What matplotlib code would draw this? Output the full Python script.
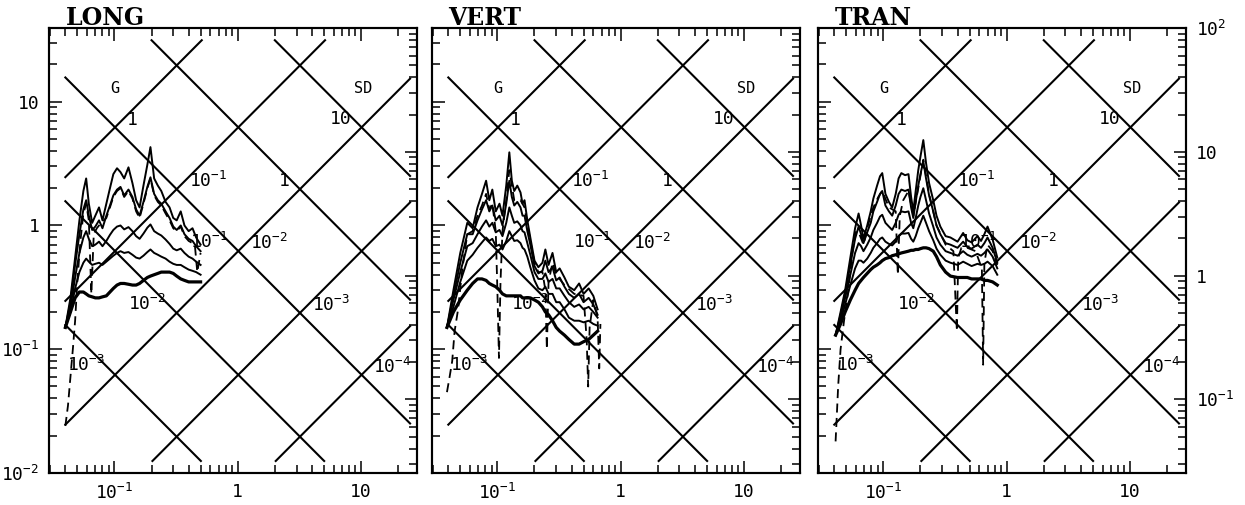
import matplotlib
matplotlib.use('Agg')
import matplotlib.pyplot as plt
from matplotlib.ticker import FixedLocator, LogLocator, NullFormatter
import numpy as np

plt.rcParams['font.family'] = ['DejaVu Sans Mono']
plt.rcParams['mathtext.fontset'] = 'custom'
plt.rcParams['mathtext.rm'] = 'DejaVu Sans Mono'
plt.rcParams['mathtext.it'] = 'DejaVu Sans Mono'

G_IN = 386.1          # in/s^2
IN_TO_CM = 2.54

# tripartite grid: displacement (in) and acceleration (g) levels
SD_LEVELS = [1e-3, 1e-2, 1e-1, 1, 10]
SD_LABEL_T = [0.1, 0.316, 1, 3.16, 10]
G_LEVELS = [1, 1e-1, 1e-2, 1e-3, 1e-4]
G_LABEL_T = [0.1, 0.316, 1, 3.16, 10]

# ---- LONG ----
T_long = [0.040, 0.044, 0.048, 0.052, 0.056, 0.059, 0.062, 0.066, 0.070, 0.075,
          0.080, 0.086, 0.092, 0.098, 0.105, 0.112, 0.120, 0.130, 0.140, 0.150,
          0.160, 0.172, 0.185, 0.196, 0.210, 0.225, 0.240, 0.260, 0.280, 0.300,
          0.320, 0.345, 0.370, 0.400, 0.430, 0.460, 0.500]
long_v1 = [0.15, 0.26, 0.55, 1.10, 1.90, 2.40, 1.50, 1.05, 1.20, 1.40,
           1.10, 1.50, 2.00, 2.60, 2.90, 2.70, 2.40, 2.95, 2.20, 1.60,
           1.40, 2.10, 3.10, 4.30, 2.40, 2.10, 1.90, 1.55, 1.40, 1.15,
           1.10, 1.30, 1.00, 0.90, 0.95, 0.80, 0.70]
long_v2 = [0.15, 0.24, 0.48, 0.85, 1.35, 1.60, 1.20, 0.92, 0.98, 1.10,
           0.95, 1.20, 1.45, 1.75, 1.95, 2.05, 1.75, 1.95, 1.70, 1.35,
           1.20, 1.55, 2.05, 2.45, 1.80, 1.60, 1.50, 1.30, 1.15, 0.98,
           0.92, 1.00, 0.85, 0.78, 0.75, 0.68, 0.62]
long_v3 = [0.15, 0.22, 0.38, 0.60, 0.80, 0.90, 0.78, 0.68, 0.70, 0.74,
           0.68, 0.75, 0.84, 0.92, 0.98, 1.00, 0.93, 0.97, 0.90, 0.82,
           0.78, 0.86, 0.96, 1.02, 0.90, 0.86, 0.83, 0.77, 0.71, 0.65,
           0.63, 0.65, 0.60, 0.56, 0.54, 0.51, 0.48]
long_v4 = [0.15, 0.20, 0.31, 0.42, 0.50, 0.54, 0.51, 0.48, 0.49, 0.50,
           0.48, 0.51, 0.54, 0.57, 0.60, 0.62, 0.60, 0.61, 0.58, 0.55,
           0.54, 0.57, 0.61, 0.64, 0.60, 0.58, 0.56, 0.54, 0.51, 0.49,
           0.48, 0.48, 0.46, 0.44, 0.43, 0.42, 0.40]
long_v5 = [0.15, 0.20, 0.26, 0.29, 0.29, 0.28, 0.27, 0.265, 0.26, 0.26,
           0.265, 0.27, 0.29, 0.31, 0.33, 0.34, 0.34, 0.335, 0.33, 0.33,
           0.34, 0.36, 0.38, 0.39, 0.40, 0.41, 0.42, 0.42, 0.42, 0.41,
           0.39, 0.37, 0.36, 0.35, 0.35, 0.35, 0.35]
Td_long = [0.040, 0.042, 0.044, 0.046, 0.048, 0.050, 0.053, 0.056, 0.059, 0.062,
           0.065, 0.068, 0.072, 0.078, 0.086, 0.092, 0.098, 0.105, 0.112, 0.120,
           0.130, 0.140, 0.150, 0.160, 0.172, 0.185, 0.196, 0.210, 0.225, 0.240,
           0.260, 0.280, 0.300, 0.320, 0.345, 0.370, 0.400, 0.430, 0.450, 0.470, 0.500]
long_vd = [0.024, 0.035, 0.06, 0.10, 0.17, 0.35, 0.75, 1.25, 1.50, 1.10,
           0.28, 0.85, 0.95, 1.05, 1.15, 1.40, 1.70, 1.90, 2.00, 1.70,
           1.90, 1.65, 1.30, 1.15, 1.50, 2.00, 2.40, 1.75, 1.55, 1.45,
           1.25, 1.10, 0.95, 0.90, 0.98, 0.82, 0.75, 0.72, 0.68, 0.42, 0.60]

# ---- VERT ----
T_vert = [0.039, 0.044, 0.050, 0.057, 0.063, 0.069, 0.075, 0.081, 0.086, 0.091,
          0.097, 0.104, 0.110, 0.118, 0.125, 0.131, 0.137, 0.145, 0.154, 0.160,
          0.166, 0.175, 0.185, 0.200, 0.215, 0.232, 0.245, 0.260, 0.280, 0.300,
          0.320, 0.350, 0.380, 0.420, 0.460, 0.500, 0.550, 0.600, 0.650]
vert_v1 = [0.15, 0.30, 0.60, 1.05, 0.95, 1.40, 1.80, 2.30, 1.60, 1.95,
           1.30, 1.50, 1.20, 2.10, 3.90, 2.30, 1.90, 2.10, 1.85, 1.50,
           1.60, 1.10, 0.80, 0.52, 0.46, 0.50, 0.64, 0.48, 0.60, 0.42,
           0.45, 0.38, 0.32, 0.30, 0.34, 0.28, 0.31, 0.27, 0.21]
vert_v2 = [0.15, 0.27, 0.50, 0.85, 0.85, 1.10, 1.35, 1.60, 1.30, 1.45,
           1.10, 1.20, 1.00, 1.50, 2.30, 1.70, 1.45, 1.55, 1.40, 1.20,
           1.20, 0.90, 0.70, 0.47, 0.41, 0.43, 0.52, 0.42, 0.46, 0.36,
           0.38, 0.32, 0.28, 0.26, 0.28, 0.24, 0.26, 0.23, 0.19]
vert_v3 = [0.15, 0.25, 0.42, 0.68, 0.72, 0.85, 0.98, 1.10, 0.98, 1.05,
           0.88, 0.92, 0.82, 1.05, 1.40, 1.20, 1.05, 1.08, 1.00, 0.90,
           0.88, 0.72, 0.58, 0.42, 0.37, 0.37, 0.41, 0.35, 0.37, 0.31,
           0.31, 0.27, 0.24, 0.22, 0.23, 0.21, 0.22, 0.20, 0.18]
vert_v4 = [0.15, 0.22, 0.35, 0.52, 0.58, 0.66, 0.73, 0.80, 0.75, 0.78,
           0.68, 0.70, 0.64, 0.75, 0.90, 0.82, 0.75, 0.76, 0.72, 0.66,
           0.64, 0.56, 0.46, 0.36, 0.31, 0.30, 0.32, 0.28, 0.28, 0.24,
           0.24, 0.21, 0.18, 0.17, 0.17, 0.165, 0.17, 0.16, 0.155]
vert_v5 = [0.15, 0.20, 0.25, 0.30, 0.34, 0.37, 0.37, 0.36, 0.34, 0.33,
           0.32, 0.30, 0.28, 0.27, 0.27, 0.27, 0.27, 0.27, 0.27, 0.26,
           0.26, 0.26, 0.26, 0.25, 0.24, 0.22, 0.20, 0.19, 0.17, 0.15,
           0.14, 0.13, 0.12, 0.11, 0.11, 0.115, 0.12, 0.13, 0.14]
Td_vert = [0.039, 0.041, 0.043, 0.045, 0.048, 0.052, 0.057, 0.063, 0.069, 0.075,
           0.081, 0.086, 0.091, 0.097, 0.100, 0.103, 0.106, 0.110, 0.118, 0.125,
           0.137, 0.154, 0.166, 0.185, 0.200, 0.215, 0.232, 0.245, 0.252, 0.260,
           0.280, 0.300, 0.350, 0.420, 0.500, 0.530, 0.545, 0.560, 0.600, 0.650,
           0.670, 0.685]
vert_vd = [0.045, 0.06, 0.08, 0.14, 0.21, 0.45, 0.85, 0.90, 1.20, 1.45,
           1.80, 1.35, 1.50, 0.90, 0.30, 0.085, 0.35, 0.90, 1.60, 2.80,
           1.60, 1.60, 1.40, 0.75, 0.50, 0.42, 0.42, 0.30, 0.10, 0.35,
           0.50, 0.40, 0.33, 0.28, 0.27, 0.12, 0.05, 0.15, 0.25, 0.18,
           0.07, 0.16]

# ---- TRAN ----
T_tran = [0.041, 0.045, 0.049, 0.054, 0.059, 0.063, 0.066, 0.069, 0.074, 0.079,
          0.083, 0.089, 0.094, 0.098, 0.104, 0.111, 0.118, 0.126, 0.133, 0.140,
          0.150, 0.160, 0.168, 0.175, 0.183, 0.192, 0.200, 0.211, 0.222, 0.235,
          0.254, 0.270, 0.290, 0.320, 0.350, 0.400, 0.444, 0.480, 0.520, 0.580,
          0.620, 0.660, 0.700, 0.770, 0.840]
tran_v1 = [0.13, 0.20, 0.30, 0.55, 0.95, 1.25, 1.00, 0.78, 1.00, 1.30,
           1.65, 2.10, 2.50, 2.65, 1.80, 1.55, 1.40, 1.80, 2.40, 2.65,
           2.55, 2.60, 1.70, 1.30, 1.90, 2.80, 3.60, 4.90, 3.20, 2.20,
           1.60, 1.20, 0.98, 0.82, 0.80, 0.74, 0.87, 0.76, 0.73, 0.82,
           0.75, 0.85, 0.98, 0.77, 0.55]
tran_v2 = [0.13, 0.19, 0.28, 0.48, 0.78, 0.98, 0.85, 0.72, 0.88, 1.05,
           1.30, 1.55, 1.80, 1.90, 1.45, 1.30, 1.20, 1.45, 1.80, 1.95,
           1.90, 1.95, 1.40, 1.15, 1.55, 2.10, 2.60, 3.30, 2.40, 1.75,
           1.30, 1.00, 0.85, 0.72, 0.70, 0.66, 0.74, 0.67, 0.65, 0.70,
           0.66, 0.72, 0.80, 0.66, 0.50]
tran_v3 = [0.13, 0.18, 0.26, 0.40, 0.60, 0.72, 0.68, 0.62, 0.70, 0.80,
           0.92, 1.05, 1.18, 1.22, 1.05, 0.98, 0.92, 1.05, 1.22, 1.30,
           1.28, 1.30, 1.05, 0.95, 1.15, 1.45, 1.70, 2.00, 1.60, 1.25,
           0.98, 0.80, 0.70, 0.62, 0.60, 0.57, 0.62, 0.58, 0.56, 0.59,
           0.57, 0.60, 0.64, 0.56, 0.45]
tran_v4 = [0.13, 0.17, 0.23, 0.33, 0.45, 0.52, 0.52, 0.50, 0.54, 0.60,
           0.66, 0.72, 0.78, 0.80, 0.74, 0.71, 0.69, 0.74, 0.82, 0.86,
           0.86, 0.87, 0.78, 0.74, 0.82, 0.95, 1.05, 1.20, 1.05, 0.90,
           0.76, 0.65, 0.58, 0.52, 0.50, 0.48, 0.51, 0.49, 0.47, 0.49,
           0.48, 0.49, 0.51, 0.47, 0.40]
tran_v5 = [0.13, 0.16, 0.20, 0.25, 0.30, 0.34, 0.36, 0.38, 0.41, 0.44,
           0.46, 0.48, 0.50, 0.52, 0.54, 0.55, 0.57, 0.58, 0.59, 0.60,
           0.61, 0.62, 0.63, 0.63, 0.64, 0.64, 0.65, 0.66, 0.66, 0.65,
           0.62, 0.56, 0.48, 0.42, 0.39, 0.38, 0.38, 0.38, 0.37, 0.37,
           0.37, 0.36, 0.36, 0.35, 0.33]
Td_tran = [0.041, 0.042, 0.043, 0.045, 0.048, 0.052, 0.056, 0.060, 0.064, 0.069,
           0.075, 0.083, 0.091, 0.098, 0.111, 0.126, 0.131, 0.136, 0.145, 0.160,
           0.175, 0.192, 0.211, 0.235, 0.270, 0.320, 0.370, 0.395, 0.405, 0.430,
           0.480, 0.560, 0.630, 0.645, 0.660, 0.700, 0.770, 0.840]
tran_vd = [0.018, 0.03, 0.05, 0.10, 0.17, 0.30, 0.60, 0.90, 0.85, 0.70,
           1.00, 1.40, 1.70, 1.90, 1.40, 1.30, 0.40, 1.20, 1.60, 1.90,
           1.20, 2.00, 3.40, 1.80, 1.00, 0.70, 0.62, 0.14, 0.55, 0.66,
           0.66, 0.62, 0.45, 0.075, 0.50, 0.70, 0.62, 0.48]

panels = [
    ('LONG', T_long, [long_v1, long_v2, long_v3, long_v4, long_v5], Td_long, long_vd),
    ('VERT', T_vert, [vert_v1, vert_v2, vert_v3, vert_v4, vert_v5], Td_vert, vert_vd),
    ('TRAN', T_tran, [tran_v1, tran_v2, tran_v3, tran_v4, tran_v5], Td_tran, tran_vd),
]

XLIM = (0.0295, 28.5)
YLIM = (0.01, 100 / IN_TO_CM)
GRID_T = (0.04, 25.0)
GRID_V = (0.0125, 31.4)


def level_text(v):
    e = int(round(np.log10(v)))
    if e == 0:
        return '1'
    if e == 1:
        return '10'
    return r'$10^{%d}$' % e


def draw_grid(ax):
    tlo, thi = GRID_T
    vlo, vhi = GRID_V
    for d in SD_LEVELS:
        t0 = max(tlo, 2 * np.pi * d / vhi)
        t1 = min(thi, 2 * np.pi * d / vlo)
        ax.plot([t0, t1], [2 * np.pi * d / t0, 2 * np.pi * d / t1],
                color='black', lw=1.5, zorder=1)
    for a in G_LEVELS:
        k = a * G_IN / (2 * np.pi)
        t0 = max(tlo, vlo / k)
        t1 = min(thi, vhi / k)
        ax.plot([t0, t1], [k * t0, k * t1], color='black', lw=1.5, zorder=1)
    for d, t in zip(SD_LEVELS, SD_LABEL_T):
        ax.annotate(level_text(d), (t, 2 * np.pi * d / t), xytext=(-7, 2),
                    textcoords='offset points', ha='right', va='baseline',
                    fontsize=13, zorder=3)
    for a, t in zip(G_LEVELS, G_LABEL_T):
        ax.annotate(level_text(a), (t, a * G_IN * t / (2 * np.pi)), xytext=(9, 2),
                    textcoords='offset points', ha='left', va='baseline',
                    fontsize=13, zorder=3)
    ax.text(0.1, 12.9, 'G', ha='center', va='center', fontsize=11)
    ax.text(10.5, 12.9, 'SD', ha='center', va='center', fontsize=11)


fig = plt.figure(figsize=(12.45, 5.05), dpi=100)
lefts = [0.0394, 0.347, 0.657]
tick_kw = dict(direction='in', width=1.1, colors='black')

for i, (name, T, curves, Td, vd) in enumerate(panels):
    ax = fig.add_axes([lefts[i], 0.0634, 0.2956, 0.881])
    ax.set_xscale('log')
    ax.set_yscale('log')
    ax.set_xlim(*XLIM)
    ax.set_ylim(*YLIM)
    for s in ax.spines.values():
        s.set_linewidth(1.5)

    draw_grid(ax)

    for j, v in enumerate(curves):
        ax.plot(T, v, color='black', lw=2.3 if j == 4 else 1.4, zorder=2)
    ax.plot(Td, vd, color='black', lw=1.3, ls=(0, (5, 3)), zorder=2)

    ax.xaxis.set_major_locator(FixedLocator([0.1, 1, 10]))
    ax.xaxis.set_minor_locator(LogLocator(base=10, subs=range(2, 10), numticks=20))
    ax.xaxis.set_minor_formatter(NullFormatter())
    ax.set_xticklabels([r'$10^{-1}$', '1', '10'], fontsize=13)
    ax.yaxis.set_major_locator(FixedLocator([0.01, 0.1, 1, 10]))
    ax.yaxis.set_minor_locator(LogLocator(base=10, subs=range(2, 10), numticks=20))
    ax.yaxis.set_minor_formatter(NullFormatter())
    if i == 0:
        ax.set_yticklabels([r'$10^{-2}$', r'$10^{-1}$', '1', '10'], fontsize=13)
    else:
        ax.set_yticklabels([])
    ax.tick_params(which='both', top=True, right=False, **tick_kw)
    ax.tick_params(which='major', length=9, pad=7)
    ax.tick_params(which='minor', length=6)

    # velocity in cm/s on the right-hand side
    ax2 = ax.twinx()
    ax2.set_yscale('log')
    ax2.set_ylim(YLIM[0] * IN_TO_CM, YLIM[1] * IN_TO_CM)
    ax2.yaxis.set_major_locator(FixedLocator([0.1, 1, 10, 100]))
    ax2.yaxis.set_minor_locator(LogLocator(base=10, subs=range(2, 10), numticks=20))
    ax2.yaxis.set_minor_formatter(NullFormatter())
    if i == 2:
        ax2.set_yticklabels([r'$10^{-1}$', '1', '10', r'$10^{2}$'], fontsize=13)
    else:
        ax2.set_yticklabels([])
    ax2.tick_params(which='both', left=False, right=True, **tick_kw)
    ax2.tick_params(which='major', length=9, pad=7)
    ax2.tick_params(which='minor', length=6)
    for s in ax2.spines.values():
        s.set_linewidth(1.5)

    ax.text(0.045, 1.007, name, transform=ax.transAxes, ha='left', va='baseline',
            family='DejaVu Serif', fontweight='bold', fontsize=17)

fig.savefig('out.png', dpi=100)
